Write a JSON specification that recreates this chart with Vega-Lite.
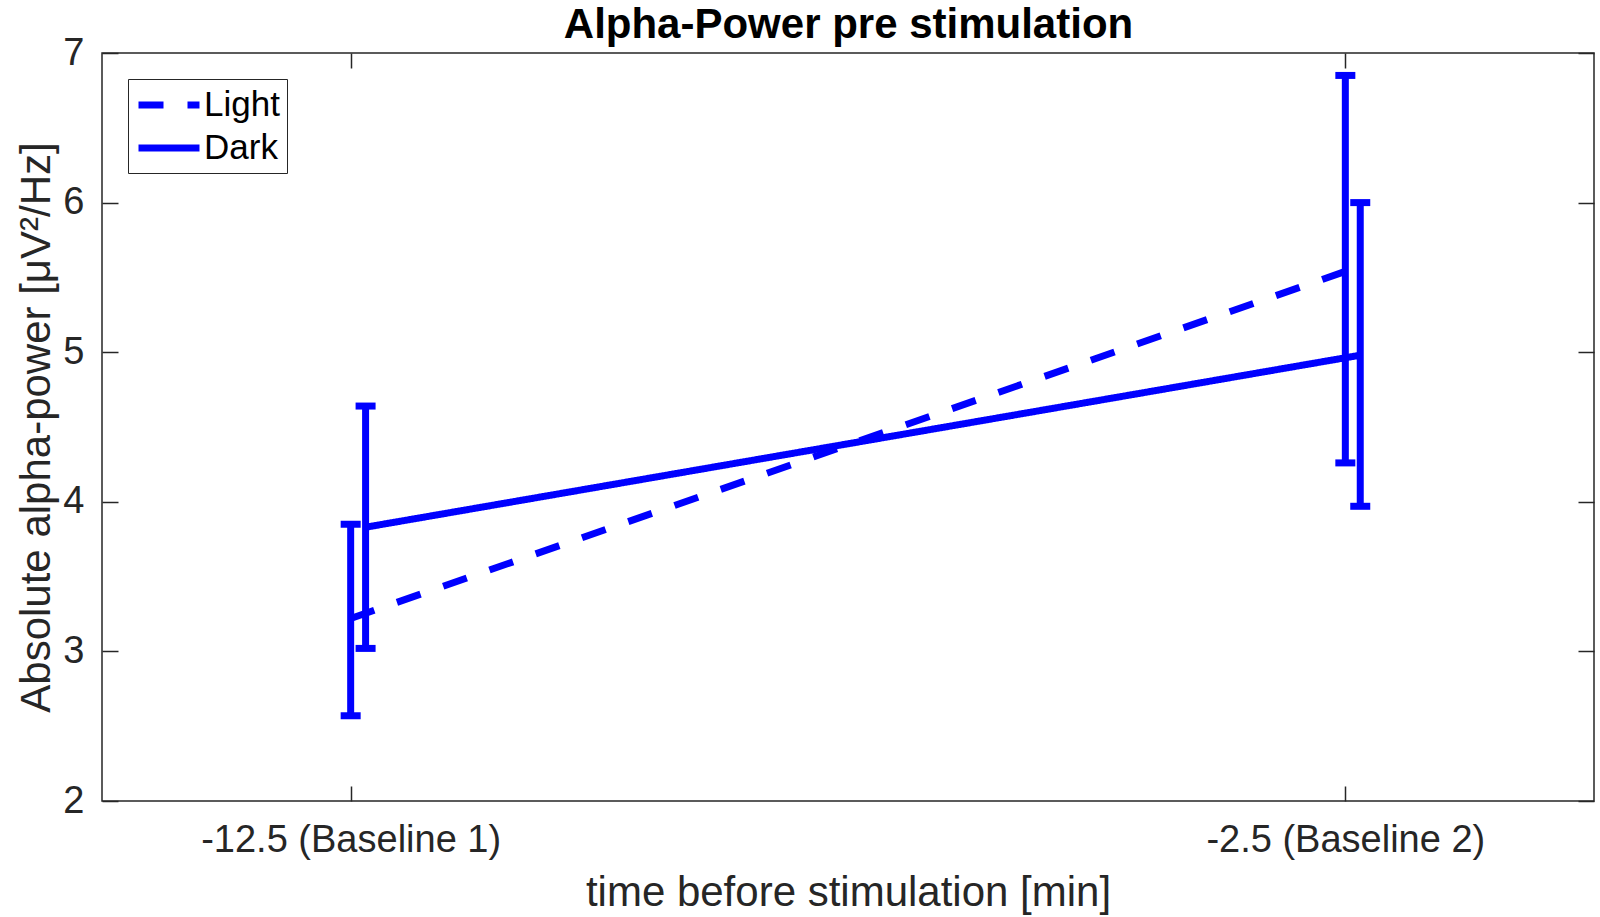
{
  "$schema": "https://vega.github.io/schema/vega-lite/v6.json",
  "width": 1492,
  "height": 748,
  "autosize": {"type": "none"},
  "padding": {"left": 102, "top": 53, "right": 6, "bottom": 116},
  "background": "white",
  "data": {
    "values": [
      {"Condition": "Light", "Time": -12.5, "Mean": 3.22, "Low": 2.57, "High": 3.85},
      {"Condition": "Light", "Time": -2.5, "Mean": 5.54, "Low": 4.26, "High": 6.85},
      {"Condition": "Dark", "Time": -12.35, "Mean": 3.83, "Low": 3.02, "High": 4.64},
      {"Condition": "Dark", "Time": -2.35, "Mean": 4.98, "Low": 3.97, "High": 6.0}
    ]
  },
  "layer": [
    {
      "mark": {"type": "line", "color": "#0000ff", "strokeWidth": 7, "strokeCap": "butt"},
      "encoding": {
        "x": {
          "field": "Time",
          "type": "quantitative",
          "scale": {"domain": [-15, 0], "nice": false, "zero": false},
          "axis": {
            "orient": "bottom",
            "values": [-12.5, -2.5],
            "labelExpr": "datum.value == -12.5 ? '-12.5 (Baseline 1)' : '-2.5 (Baseline 2)'",
            "labelLimit": 0,
            "title": "time before stimulation [min]",
            "tickSize": -15,
            "labelPadding": 65,
            "labelBaseline": "alphabetic",
            "titleBaseline": "alphabetic",
            "titlePadding": 46
          }
        },
        "y": {
          "field": "Mean",
          "type": "quantitative",
          "scale": {"domain": [2, 7], "nice": false, "zero": false},
          "axis": {
            "orient": "left",
            "values": [2, 3, 4, 5, 6, 7],
            "title": "Absolute alpha-power [μV²/Hz]",
            "tickSize": -16,
            "labelPadding": 34,
            "titlePadding": 4
          }
        },
        "strokeDash": {
          "field": "Condition",
          "type": "nominal",
          "scale": {"domain": ["Light", "Dark"], "range": [[25, 24], [1, 0]]},
          "legend": {
            "title": null,
            "orient": "top-left",
            "offset": 26,
            "symbolType": "M-2,0H2",
            "symbolSize": 930,
            "symbolOffset": 15,
            "symbolStrokeWidth": 7,
            "symbolStrokeColor": "#0000ff",
            "symbolFillColor": "transparent",
            "labelFontSize": 35,
            "labelFont": "Liberation Sans",
            "labelColor": "#000000",
            "labelOffset": 16,
            "strokeColor": "#262626",
            "fillColor": "white",
            "padding": 7,
            "rowPadding": 6
          }
        }
      }
    },
    {
      "mark": {"type": "rule", "color": "#0000ff", "strokeWidth": 7, "strokeCap": "butt"},
      "encoding": {
        "x": {"field": "Time", "type": "quantitative", "axis": null},
        "y": {"field": "Low", "type": "quantitative", "axis": null},
        "y2": {"field": "High"}
      }
    },
    {
      "mark": {"type": "tick", "color": "#0000ff", "orient": "horizontal", "size": 20, "thickness": 7, "opacity": 1},
      "encoding": {
        "x": {"field": "Time", "type": "quantitative", "axis": null},
        "y": {"field": "Low", "type": "quantitative", "axis": null}
      }
    },
    {
      "mark": {"type": "tick", "color": "#0000ff", "orient": "horizontal", "size": 20, "thickness": 7, "opacity": 1},
      "encoding": {
        "x": {
          "field": "Time",
          "type": "quantitative",
          "axis": {
            "orient": "top",
            "values": [-12.5, -2.5],
            "labels": false,
            "title": "Alpha-Power pre stimulation",
            "titleFontSize": 42,
            "titleFontWeight": "bold",
            "titleColor": "#000000",
            "titleBaseline": "alphabetic",
            "titlePadding": 15,
            "tickSize": -15,
            "labelPadding": 0,
            "minExtent": 0
          }
        },
        "y": {
          "field": "High",
          "type": "quantitative",
          "axis": {"orient": "right", "values": [2, 3, 4, 5, 6, 7], "labels": false, "title": null, "tickSize": -16, "labelPadding": 0, "minExtent": 0, "maxExtent": 0}
        }
      }
    }
  ],
  "resolve": {"axis": {"x": "independent", "y": "independent"}},
  "config": {
    "font": "Liberation Sans",
    "view": {"stroke": "#262626", "strokeWidth": 1.5},
    "axis": {
      "grid": false,
      "domain": false,
      "ticks": true,
      "tickColor": "#262626",
      "tickWidth": 1.5,
      "labelFont": "Liberation Sans",
      "labelFontSize": 38,
      "labelColor": "#262626",
      "titleFont": "Liberation Sans",
      "titleFontSize": 42,
      "titleFontWeight": "normal",
      "titleColor": "#262626"
    }
  }
}
